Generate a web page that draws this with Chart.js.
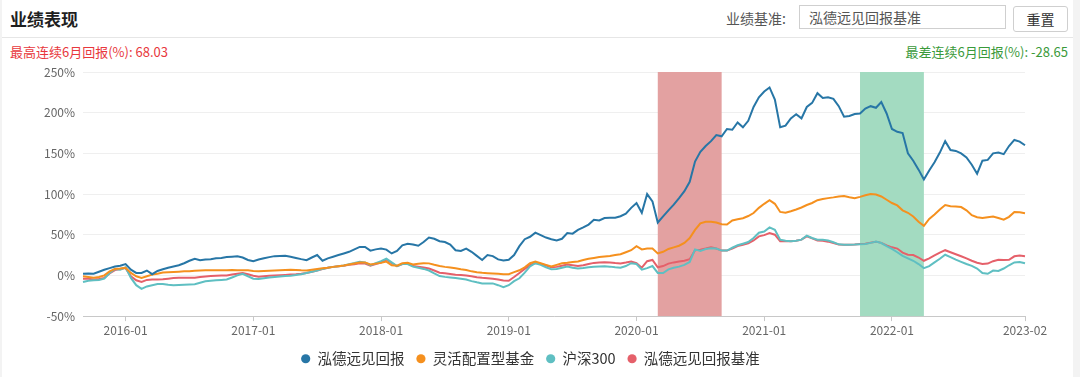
<!DOCTYPE html>
<html>
<head>
<meta charset="utf-8">
<script src="https://cdn.jsdelivr.net/npm/chart.js@4.4.1/dist/chart.umd.min.js"></script>
<style>
  html, body { margin: 0; padding: 0; }
  body { width: 1080px; height: 377px; overflow: hidden; background: #f3f3f3; position: relative;
         font-family: "Noto Sans CJK SC", "Noto Sans", sans-serif; }
  #panel { position: absolute; left: 2px; top: 0; width: 1071px; height: 377px; background: #fff; }
  .abs { position: absolute; white-space: nowrap; }
  #title { left: 10px; top: 6px; font-size: 17px; font-weight: bold; color: #1f1f1f; line-height: 26px; }
  #sep { left: 2px; top: 37px; width: 1071px; height: 1px; background: #e6e6e6; }
  #benchLbl { left: 726px; top: 6px; font-size: 14px; color: #555; line-height: 24px; }
  #benchBox { left: 799px; top: 5px; width: 207px; height: 24px; border: 1px solid #cfcfcf; box-sizing: border-box;
              font-size: 14px; color: #555; line-height: 22px; padding-left: 9px; }
  #resetBtn { left: 1013px; top: 6px; width: 55px; height: 26px; border: 1px solid #cfcfcf; border-radius: 3px;
              box-sizing: border-box; font-size: 14px; color: #333; line-height: 24px; text-align: center; }
  #best { left: 10px; top: 43px; font-size: 13px; color: #e8383d; line-height: 18px; }
  #worst { right: 12px; top: 43px; font-size: 13px; color: #3a9a3a; line-height: 18px; }
  #wrap { position: absolute; left: 0; top: 0; width: 1080px; height: 377px; }
</style>
</head>
<body>
<div id="panel"></div>
<div id="title" class="abs">业绩表现</div>
<div id="benchLbl" class="abs">业绩基准:</div>
<div id="benchBox" class="abs">泓德远见回报基准</div>
<div id="resetBtn" class="abs">重置</div>
<div id="sep" class="abs"></div>
<div id="best" class="abs">最高连续6月回报(%): 68.03</div>
<div id="worst" class="abs">最差连续6月回报(%): -28.65</div>
<div id="wrap"><canvas id="c"></canvas></div>
<script>
// ---------------- data ----------------
const dates = [
  "2015-09-01","2015-09-16","2015-10-01","2015-10-16","2015-11-01","2015-11-16","2015-12-01","2015-12-16",
  "2016-01-01","2016-01-16","2016-02-01","2016-02-16","2016-03-01","2016-03-16","2016-04-01","2016-04-16","2016-05-01","2016-05-16","2016-06-01","2016-06-16","2016-07-01","2016-07-16","2016-08-01","2016-08-16","2016-09-01","2016-09-16","2016-10-01","2016-10-16","2016-11-01","2016-11-16","2016-12-01","2016-12-16",
  "2017-01-01","2017-01-16","2017-02-01","2017-02-16","2017-03-01","2017-03-16","2017-04-01","2017-04-16","2017-05-01","2017-05-16","2017-06-01","2017-06-16","2017-07-01","2017-07-16","2017-08-01","2017-08-16","2017-09-01","2017-09-16","2017-10-01","2017-10-16","2017-11-01","2017-11-16","2017-12-01","2017-12-16",
  "2018-01-01","2018-01-16","2018-02-01","2018-02-16","2018-03-01","2018-03-16","2018-04-01","2018-04-16","2018-05-01","2018-05-16","2018-06-01","2018-06-16","2018-07-01","2018-07-16","2018-08-01","2018-08-16","2018-09-01","2018-09-16","2018-10-01","2018-10-16","2018-11-01","2018-11-16","2018-12-01","2018-12-16",
  "2019-01-01","2019-01-16","2019-02-01","2019-02-16","2019-03-01","2019-03-16","2019-04-01","2019-04-16","2019-05-01","2019-05-16","2019-06-01","2019-06-16","2019-07-01","2019-07-16","2019-08-01","2019-08-16","2019-09-01","2019-09-16","2019-10-01","2019-10-16","2019-11-01","2019-11-16","2019-12-01","2019-12-16",
  "2020-01-01","2020-01-16","2020-02-01","2020-02-16","2020-03-01","2020-03-16","2020-04-01","2020-04-16","2020-05-01","2020-05-16","2020-06-01","2020-06-16","2020-07-01","2020-07-16","2020-08-01","2020-08-16","2020-09-01","2020-09-16","2020-10-01","2020-10-16","2020-11-01","2020-11-16","2020-12-01","2020-12-16",
  "2021-01-01","2021-01-16","2021-02-01","2021-02-16","2021-03-01","2021-03-16","2021-04-01","2021-04-16","2021-05-01","2021-05-16","2021-06-01","2021-06-16","2021-07-01","2021-07-16","2021-08-01","2021-08-16","2021-09-01","2021-09-16","2021-10-01","2021-10-16","2021-11-01","2021-11-16","2021-12-01","2021-12-16",
  "2022-01-01","2022-01-16","2022-02-01","2022-02-16","2022-03-01","2022-03-16","2022-04-01","2022-04-16","2022-05-01","2022-05-16","2022-06-01","2022-06-16","2022-07-01","2022-07-16","2022-08-01","2022-08-16","2022-09-01","2022-09-16","2022-10-01","2022-10-16","2022-11-01","2022-11-16","2022-12-01","2022-12-16",
  "2023-01-16","2023-02-02"
];

const seriesNames = ["泓德远见回报", "灵活配置型基金", "沪深300", "泓德远见回报基准"];

const fundReturn = [
  2,2.5,2,4.5,7,9,11,12,
  14,7,3,3,6,1.5,5.5,7.5,9.5,11,12.5,15,18,20.5,18.7,19.5,20,21,21.5,22.5,23,23.5,22,19,
  17.5,19.5,21,22.5,23.7,24,24.3,23,21.5,20,18.7,22,25,18,21,23,25,27,29,32,35,35,30.5,32,
  33,31.7,27,30,37,39,38,36.5,41,46.5,45,42,41,38,31,30,33,29,24,19,25,23.7,19.7,18.3,
  19.2,25,36,44.5,47.5,52.5,49.5,46.5,44.5,43,45,52,51.3,56,59,62.5,68.3,67.6,70.5,71,70.8,72.7,75.8,83,
  89,77,100,91,65,72.5,80,87,95,103.5,115,140,152,159,165,172.5,171,180,179,188,182,190,207,219,
  226,231,216,182,184,193,198,193,207,212,224,218,219,217,208,195,196,198.4,199,205,208,206,213,199,
  180,176.5,175,150,141,130,118,129,139,151,165,154,153,150,145,136,125,141,142,150,151,149,159,166.5,
  164.5,160
];

const flexibleFund = [
  -1,-2,-3,-2,0,5,8,8.5,
  9.3,3,-1,-3,-1,1,2,3.5,4,4.3,4.6,5,5.2,5.6,6,6.4,6.5,6.5,6.5,6.5,6.6,6.5,6.5,6.3,
  5.5,5,5.3,5.6,6,6.4,6.7,7,6.8,6.3,6,7,8,8.8,9.5,10.5,11.3,12.2,13.5,14.7,16,16,13.5,14.5,
  15.4,17,12.5,12,15,15.5,13.5,14.2,15,14.8,13,11.5,10.5,9.8,8.8,7.6,6.6,5,4,3.2,2.8,2.4,2,1.5,
  1.5,4,6.3,10,15,17,15,13,11,13,15,15.5,16.5,17.2,19,20.5,21.5,22.5,23.3,24,25,26,28.5,31,
  36,32,33,33,27,29,32.5,34.5,36.5,40,46,56,64,66,66,65,63,62.5,67.5,69,70.3,73,76.7,83,
  88,92.5,88,78,77,78.8,81,83.5,86.5,89,92.5,94,95,95.9,97,97.5,96,95,96.5,98.5,100,99.5,97,93,
  89,86,80,77,72.5,66,61,69.5,75,81,86.5,85,84.8,84,80,74,71.5,70.5,71.5,72.4,70.5,68.5,72,78,
  77.5,76.5
];

const csi300 = [
  -8,-6.5,-6,-5.5,-4,3,8,7,
  10,-3,-12,-16.5,-13.5,-12,-10.5,-10.5,-11.5,-12,-11.8,-11.5,-11.2,-10.8,-9,-7.3,-6.5,-6,-5.5,-5,-2.5,0,2,-1,
  -4,-4.5,-3.5,-2.5,-1.8,-1.3,-0.8,-0.3,0.5,1.5,3,4.5,6,8,9.5,10.5,11.3,12.2,13.8,15.2,16.8,16,12.5,15,
  17.5,20.5,16,11.5,14,14,10.8,9.3,8,6,2.5,-0.8,-1.8,-2.5,-3.3,-4,-5,-7,-8.5,-9.8,-9.8,-9.8,-12,-14.5,
  -12,-7,-3.5,3.5,11,15,13,10,7.5,8,9.5,11,9.5,8.4,9,10,10.7,11,11.3,10.8,10,9.5,11.5,15,
  14,7,9,11.5,3,3,7.5,9.5,10.8,13,16.5,32,30,32.5,33.5,33,30.5,30.5,34,37,39,41,46,52.5,
  54,59,56,44,42.5,42,42.5,44,48.8,46,43.9,43.9,43,40.8,38.2,37.8,37.8,37.9,38.2,38.5,40,41.5,39.8,36,
  32.5,28.5,24,21,18,14,9,11.5,16,20.5,25.4,22.5,19.5,16.7,14,11.7,8.5,3,2,6,5.5,8.5,12.5,16,
  16.5,15
];

const benchmark = [
  -4,-4,-5,-4.5,-3,2.5,6.5,8,
  9,-1,-6,-8,-5.5,-5,-5,-4.8,-4,-3.3,-3,-3,-3,-2.8,-2,-1.2,-0.8,-0.5,-0.2,0,1,2,3,1.5,
  -0.5,-1.5,-1,-0.5,0,0.3,0.6,1,1.3,2,3,4.5,6,7.8,9.5,10.5,11.3,12,13,13.8,14.8,14.5,12,14,
  15.8,19.5,15,11.5,14,14.5,11.5,10.6,9.8,8.5,6,3.4,2.6,1.7,0.8,0.5,0,-1,-2.2,-3,-3.5,-4,-5,-6.3,
  -6.5,-2,3,8,12.5,15.4,14.5,12.2,10,10.5,12,13.3,12.5,11.6,12.4,14,15.4,15.8,16.2,15.8,15.2,14.8,15.8,17,
  15,9.5,17.5,19,10,11.5,14.5,16,17,18,20,31,31.7,33,34.5,33,30.5,30.5,33,36,37.5,39.3,43,48,
  49.5,52,50,42,41.9,42,42.5,44,48,45.5,42.9,42.5,41.5,39.8,38,37.8,37.8,37.9,38.5,39,40.3,41.5,40,37,
  34.5,33,28,25.5,25,22,18,21,24.5,28,31,28.5,26,23.5,21,18,15.5,14,14.5,17.5,19.2,19,19.2,23.5,
  24.5,23.6
];

const xTickDates = ["2016-01-01","2017-01-01","2018-01-01","2019-01-01","2020-01-01","2021-01-01","2022-01-01","2023-02-02"];
const yTicks = [-50, 0, 50, 100, 150, 200, 250];

const bestPeriod = ["2020-03-01", "2020-09-01"];   // 最高连续6月
const worstPeriod = ["2021-10-01", "2022-04-01"];  // 最差连续6月

// ---------------- chart ----------------
const colors = ["#2776a6", "#f5901e", "#5fbfc2", "#e5606a"];
const seriesData = [fundReturn, flexibleFund, csi300, benchmark];
const FONT = '"Noto Sans CJK SC", sans-serif';

const shadePlugin = {
  id: "shade",
  beforeDatasetsDraw(chart) {
    const { ctx, chartArea: a, scales: { x } } = chart;
    const bands = [[bestPeriod, "#e3a1a1"], [worstPeriod, "#a3dbc1"]];
    ctx.save();
    bands.forEach(([p, col]) => {
      const x0 = x.getPixelForValue(dates.indexOf(p[0]));
      const x1 = x.getPixelForValue(dates.indexOf(p[1]));
      ctx.fillStyle = col;
      ctx.fillRect(x0, a.top, x1 - x0, a.bottom - a.top);
    });
    ctx.restore();
  }
};

const tickIdx = xTickDates.map(d => dates.indexOf(d));

new Chart(document.getElementById("c"), {
  type: "line",
  data: {
    labels: dates,
    datasets: seriesNames.map((n, i) => ({
      label: n,
      data: seriesData[i],
      borderColor: colors[i],
      backgroundColor: colors[i],
      borderWidth: 2,
      pointRadius: 0,
      pointHoverRadius: 0,
      tension: 0,
      fill: false
    }))
  },
  options: {
    responsive: true,
    maintainAspectRatio: false,
    animation: false,
    layout: { padding: { top: 72, left: 0, right: 19, bottom: 1 } },
    plugins: {
      tooltip: { enabled: false },
      legend: {
        position: "bottom",
        labels: {
          usePointStyle: true,
          pointStyle: "circle",
          boxWidth: 9,
          boxHeight: 6.5,
          padding: 12,
          color: "#333",
          font: { size: 14.5, family: FONT },
          generateLabels(chart) {
            const items = Chart.defaults.plugins.legend.labels.generateLabels(chart);
            items.forEach(it => { it.lineWidth = 0; it.pointStyle = "circle"; });
            return items;
          }
        }
      }
    },
    scales: {
      x: {
        type: "category",
        offset: false,
        afterBuildTicks(scale) { scale.ticks = tickIdx.map(v => ({ value: v })); },
        ticks: {
          autoSkip: false,
          maxRotation: 0,
          padding: 2,
          color: "#666",
          font: { size: 12, family: FONT },
          callback: (v) => dates[v].slice(0, 7)
        },
        grid: { display: true, drawOnChartArea: false, drawTicks: true, tickLength: 5, color: "#c8c8c8" },
        border: { display: true, color: "#c8c8c8" }
      },
      y: {
        min: -50,
        max: 250,
        afterBuildTicks(scale) { scale.ticks = yTicks.map(v => ({ value: v })); },
        afterFit(scale) { scale.width = 83; },
        ticks: {
          padding: 8,
          color: "#666",
          font: { size: 12, family: FONT },
          callback: (v) => v + "%"
        },
        grid: { color: "#efefef", drawTicks: false },
        border: { display: false }
      },
      yRightSpace: {
        position: "right",
        display: true,
        afterFit(scale) { scale.width = 36; },
        ticks: { display: false },
        grid: { display: false, drawTicks: false },
        border: { display: false }
      }
    }
  },
  plugins: [shadePlugin]
});
</script>
</body>
</html>
